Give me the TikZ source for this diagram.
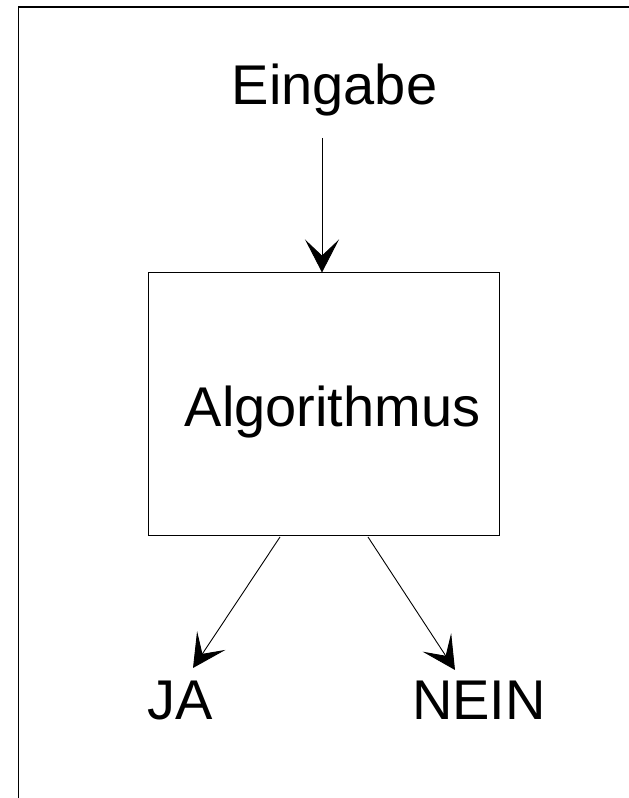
\documentclass[tikz,border=0pt]{standalone}
\usepackage{fontspec}
\setmainfont{Liberation Sans}
\usetikzlibrary{arrows.meta}
\begin{document}
\begin{tikzpicture}[x=1pt,y=1pt,
  lbl/.style={inner sep=0pt,font=\fontsize{56}{60}\selectfont},
  arr/.style={line width=0.9pt,-{Stealth[length=33pt,width=34pt,inset=16pt]}},
  frame/.style={line width=1.4pt}]
\useasboundingbox (0,0) rectangle (629,798);
\draw[frame] (18.5,0) -- (18.5,791) -- (629,791);
\node[draw,line width=1pt,minimum width=351pt,minimum height=263pt,inner sep=0pt] (alg) at (323.5,393.5) {};
\node[lbl,anchor=base] (algt) at (332.5,371) {Algorithmus};
\node[lbl,anchor=base] (ein) at (334.5,693) {Eingabe};
\node[lbl,anchor=base west] (ja) at (147,78) {JA};
\node[lbl,anchor=base west] (nein) at (412,78) {NEIN};
\coordinate (s1) at (322,660);
\coordinate (s2) at (280,261);
\coordinate (s3) at (368,261);
\coordinate (t2) at (193,130);
\coordinate (t3) at (455,128);
\draw[arr] (s1) -- (s1 |- alg.north);
\draw[arr] (s2) -- (t2);
\draw[arr] (s3) -- (t3);
\end{tikzpicture}
\end{document}
